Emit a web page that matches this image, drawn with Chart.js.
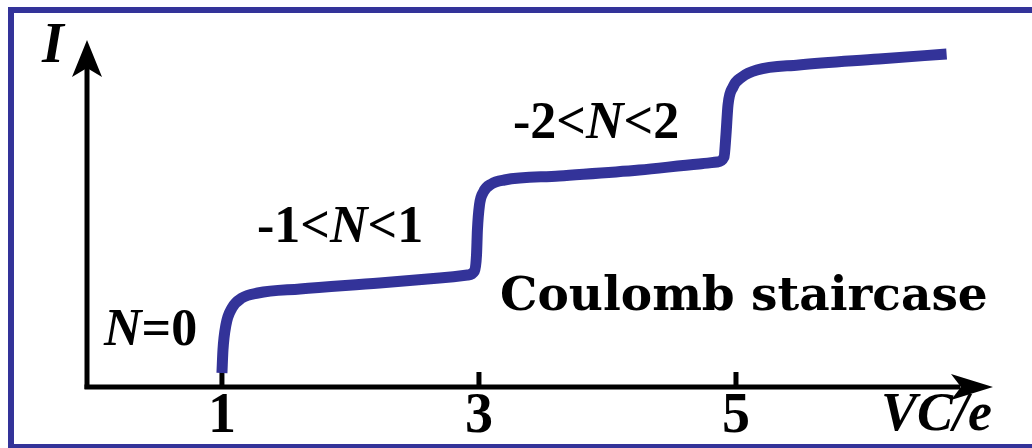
<!DOCTYPE html>
<html>
<head>
<meta charset="utf-8">
<title>Coulomb staircase</title>
<script src="https://cdn.jsdelivr.net/npm/chart.js@4.4.1/dist/chart.umd.min.js"></script>
<style>
  html, body { margin: 0; padding: 0; background: #fff; overflow: hidden; }
  #wrap { position: relative; width: 1032px; height: 448px; }
  #stage { position: absolute; left: 0; top: 0; }
  .lbl {
    position: absolute; white-space: nowrap; line-height: 1; color: #000;
    font-family: 'Liberation Serif', serif; font-weight: bold;
  }
  .lbl i { font-style: italic; }
  .caption { font-family: 'DejaVu Serif', serif; }
</style>
</head>
<body>
<div id="wrap">
  <canvas id="stage" width="1032" height="448"></canvas>
</div>
<script>
// I-V curve of a single-electron transistor, x in units of e/C
var curveX = [1.000, 1.008, 1.031, 1.078, 1.155, 1.280, 1.606, 2.227, 2.693, 2.911,
              2.965, 2.981, 2.988, 3.004, 3.035, 3.097, 3.198, 3.625, 4.247, 4.713,
              4.852, 4.907, 4.922, 4.938, 4.977, 5.047, 5.163, 5.489, 6.111, 6.639];
var curveI = [0.14, 0.37, 0.62, 0.79, 0.89, 0.94, 0.98, 1.04, 1.09, 1.12,
              1.16, 1.32, 1.57, 1.82, 1.95, 2.03, 2.07, 2.11, 2.17, 2.23,
              2.25, 2.30, 2.52, 2.82, 3.00, 3.10, 3.17, 3.22, 3.28, 3.33];

var tickValues = [1, 3, 5];
var tickLabels = ['1', '3', '5'];

var yTitle = '<i>I</i>';
var xTitle = '<i>VC/e</i>';
var stateLabels = ['<i>N</i>=0', '-1&lt;<i>N</i>&lt;1', '-2&lt;<i>N</i>&lt;2'];
var captionText = 'Coulomb staircase';

var INK = '#000';
var CURVE = '#333399';

function arrowHead(ctx, pts) {
  ctx.beginPath();
  ctx.moveTo(pts[0][0], pts[0][1]);
  for (var i = 1; i < pts.length; i++) ctx.lineTo(pts[i][0], pts[i][1]);
  ctx.closePath();
  ctx.fill();
}

var staircaseAxes = {
  id: 'staircaseAxes',
  beforeDraw: function (chart) {
    var ctx = chart.ctx;
    ctx.save();
    ctx.fillStyle = '#fff';
    ctx.fillRect(0, 0, chart.width, chart.height);
    // open frame: left, top and bottom edges
    ctx.fillStyle = CURVE;
    ctx.fillRect(8, 7, 6, 441);
    ctx.fillRect(8, 7, chart.width - 8, 6);
    ctx.fillRect(8, 444, chart.width - 8, 4);
    ctx.restore();
  },
  beforeDatasetsDraw: function (chart) {
    var ctx = chart.ctx, a = chart.chartArea, xs = chart.scales.x;
    var ox = a.left, oy = a.bottom;
    ctx.save();
    ctx.fillStyle = INK;
    ctx.fillRect(ox - 2.5, a.top + 28, 5, oy - a.top - 26);
    ctx.fillRect(ox - 2.5, oy - 2.5, a.right - ox - 30, 5);
    arrowHead(ctx, [[ox, a.top], [ox + 15, a.top + 37], [ox, a.top + 28], [ox - 15, a.top + 37]]);
    arrowHead(ctx, [[a.right, oy], [a.right - 42, oy - 13], [a.right - 32, oy], [a.right - 42, oy + 13]]);
    tickValues.forEach(function (v) {
      var px = xs.getPixelForValue(v);
      ctx.fillRect(px - 2.5, oy - 15, 5, 15);
    });
    ctx.restore();
  }
};

var points = curveX.map(function (x, i) { return { x: x, y: curveI[i] }; });

var chart = new Chart(document.getElementById('stage'), {
  type: 'line',
  data: {
    datasets: [{
      data: points,
      borderColor: CURVE,
      borderWidth: 11,
      borderCapStyle: 'butt',
      borderJoinStyle: 'round',
      cubicInterpolationMode: 'monotone',
      pointRadius: 0,
      fill: false
    }]
  },
  options: {
    responsive: false,
    animation: false,
    devicePixelRatio: 1,
    layout: { padding: { left: 87, right: 39, top: 40, bottom: 61 } },
    plugins: { legend: { display: false }, tooltip: { enabled: false } },
    scales: {
      x: { type: 'linear', min: -0.05, max: 7.0, display: false },
      y: { type: 'linear', min: 0, max: 3.47, display: false }
    }
  },
  plugins: [staircaseAxes]
});

// text sits in the page over the canvas; x,y = left edge and baseline
var wrap = document.getElementById('wrap');
function label(html, x, baseline, size, cls, centre) {
  var el = document.createElement('span');
  el.className = 'lbl' + (cls ? ' ' + cls : '');
  el.style.fontSize = size + 'px';
  el.innerHTML = html;
  wrap.appendChild(el);
  var asc = cls === 'caption' ? 0.928 : 0.891;
  var desc = cls === 'caption' ? 0.236 : 0.216;
  var top = baseline - size * (asc - (asc + desc - 1) / 2);
  var left = centre ? x - el.offsetWidth / 2 : x;
  el.style.left = left + 'px';
  el.style.top = top + 'px';
  return el;
}

var xs = chart.scales.x;
tickValues.forEach(function (v, i) {
  label(tickLabels[i], xs.getPixelForValue(v), 432, 56, '', true);
});
label(yTitle, 42, 62, 56);
label(xTitle, 881, 430, 54);
label(stateLabels[0], 104, 346, 52);
label(stateLabels[1], 257, 243, 52);
label(stateLabels[2], 513, 139, 52);

var cap = label(captionText, 500, 310, 42, 'caption');
var capSize = 42 * 488 / cap.offsetWidth;
wrap.removeChild(cap);
label(captionText, 500, 310, capSize.toFixed(1), 'caption');
</script>
</body>
</html>
